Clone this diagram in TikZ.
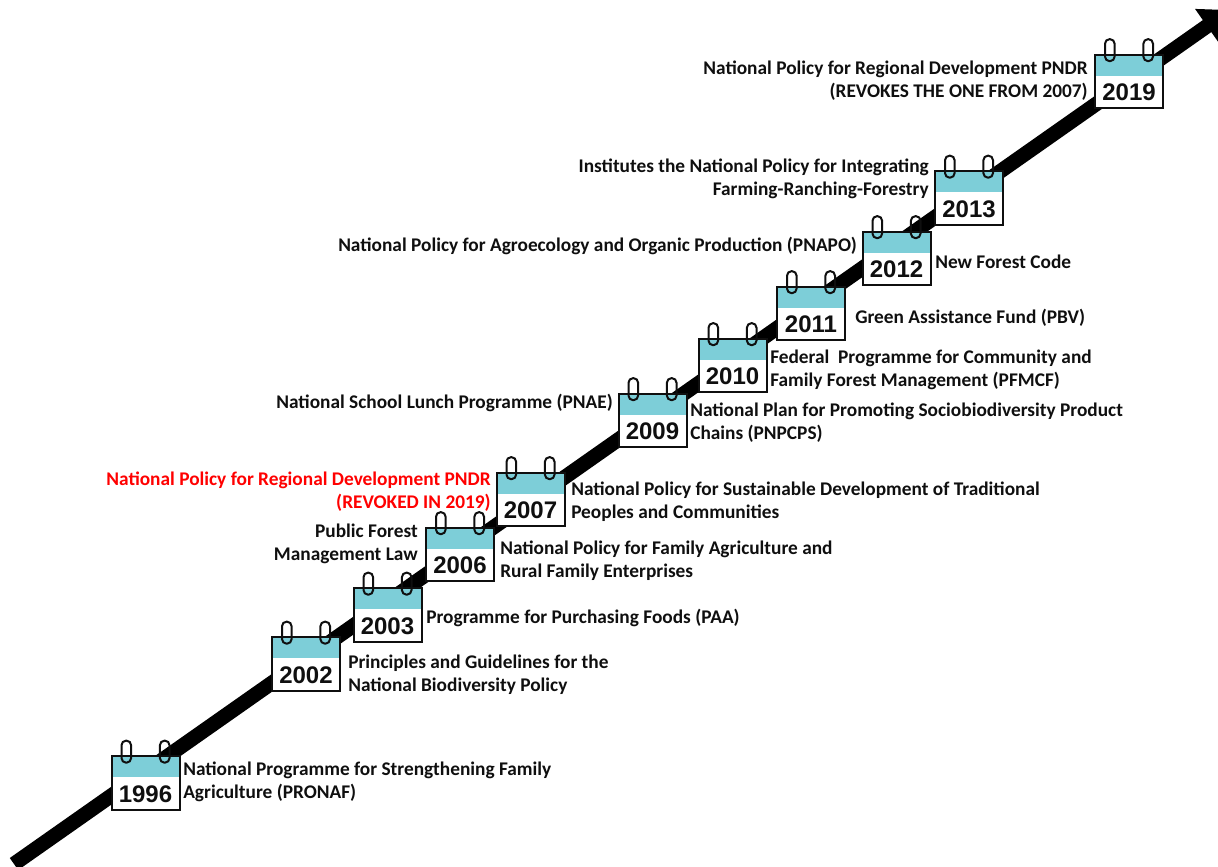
\documentclass[tikz,border=0pt]{standalone}
\usepackage{fontspec}
\setmainfont{Carlito}
\newfontfamily\yearfont{Liberation Sans}
\usetikzlibrary{arrows.meta}
\usetikzlibrary{positioning}
\definecolor{calteal}{RGB}{125,206,216}
\definecolor{ink}{RGB}{15,15,15}

\begin{document}
\begin{tikzpicture}[x=0.75pt,y=-0.75pt,
  timeline/.style={line width=11pt,-{Triangle[width=30pt,length=21pt]}},
  calbox/.style={draw=ink,line width=1.5pt,fill=white,minimum width=51pt,minimum height=40pt,inner sep=0pt,
    font=\yearfont\bfseries\fontsize{18}{18}\selectfont,text=ink,text height=28.5pt,text depth=0pt,
    path picture={\fill[calteal] (path picture bounding box.north west) rectangle ([yshift=-15.75pt]path picture bounding box.north east);}},
  ring/.style={draw=ink,line width=1.5pt,rounded corners=3.4pt},
  lbl/.style={font=\bfseries\fontsize{14.5}{17.25}\selectfont,text=ink,inner sep=0pt},
  lblR/.style={lbl,anchor=west,align=left},
  lblL/.style={lbl,anchor=east,align=right}]
\clip (0,0) rectangle (1218,867);
% timeline arrow
\coordinate (start) at (14,864);
\coordinate (tip) at (1230,10);
\draw [timeline] (start) -- (tip);
% calendars
\foreach \yr/\cx/\cy in {1996/145.5/783,2002/306/664,2003/387.5/615,2006/460/554.5,2007/530.5/499.5,
  2009/652.5/420.5,2010/732.5/365.5,2011/811/313.5,2012/896.5/258.5,2013/969/198,2019/1129/81.5}{
  \node [calbox] (c\yr) at (\cx,\cy) {\yr};
  \draw [ring] ([xshift=-18pt,yshift=11pt]c\yr.north) rectangle ([xshift=-10.8pt,yshift=-5.5pt]c\yr.north);
  \draw [ring] ([xshift=10.8pt,yshift=11pt]c\yr.north) rectangle ([xshift=18pt,yshift=-5.5pt]c\yr.north);
}
% labels
\node [lblR] (t1996) at (183,781.5) {National Programme for Strengthening Family\\Agriculture (PRONAF)};
\node [lblR] (t2002) at (348,674.5) {Principles and Guidelines for the\\National Biodiversity Policy};
\node [lblR] (t2003) at (426,618) {Programme for Purchasing Foods (PAA)};
\node [lblR] (t2006) at (500,561) {National Policy for Family Agriculture and\\Rural Family Enterprises};
\node [lblL] (l2006) at (418,544) {Public Forest\\Management Law};
\node [lblR] (t2007) at (571,501.5) {National Policy for Sustainable Development of Traditional\\Peoples and Communities};
\node [lblL,text=red] (l2007) at (491,491.5) {National Policy for Regional Development PNDR\\(REVOKED IN 2019)};
\node [lblL] (l2009) at (613,403) {National School Lunch Programme (PNAE)};
\node [lblR] (t2009) at (690,423) {National Plan for Promoting Sociobiodiversity Product\\Chains (PNPCPS)};
\node [lblR] (t2010) at (770,369.5) {Federal~ Programme for Community and\\Family Forest Management (PFMCF)};
\node [lblR] (t2011) at (855,318) {Green Assistance Fund (PBV)};
\node [lblL] (l2012) at (857,246) {National Policy for Agroecology and Organic Production (PNAPO)};
\node [lblR] (t2012) at (935,262) {New Forest Code};
\node [lblL] (l2013) at (929,178.5) {Institutes the National Policy for Integrating\\Farming-Ranching-Forestry};
\node [lblL] (l2019) at (1088,80.5) {National Policy for Regional Development PNDR\\(REVOKES THE ONE FROM 2007)};
\end{tikzpicture}
\end{document}
